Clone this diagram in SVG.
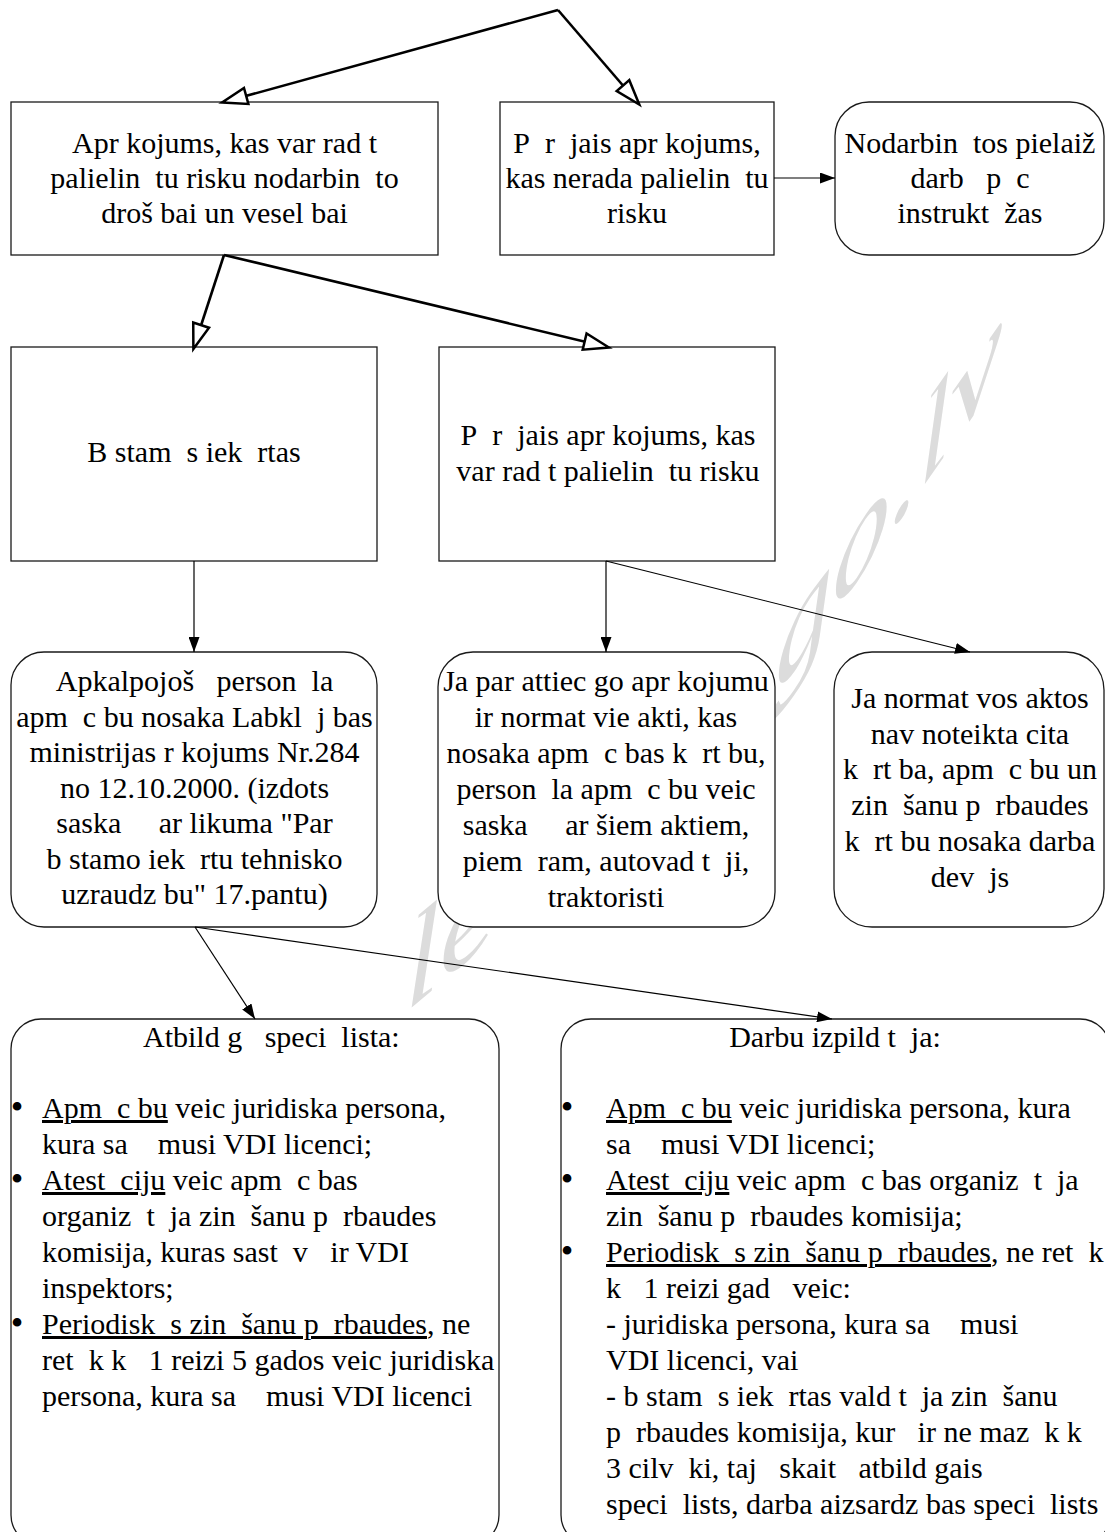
<svg xmlns="http://www.w3.org/2000/svg" width="1105" height="1532" viewBox="0 0 1105 1532">
<style>
.box{fill:#fff;stroke:#1a1a1a;stroke-width:1.3}
.t{font-family:"Liberation Serif","Times New Roman",serif;font-size:30px;fill:#000}
.c{text-anchor:middle}
.b{font-family:"Liberation Serif","Times New Roman",serif;font-size:36px;fill:#000;text-anchor:middle}
.thick{stroke:#000;stroke-width:2.6;fill:none;marker-end:url(#open)}
.thin{stroke:#000;stroke-width:1.2;fill:none;marker-end:url(#solid)}
.wm{font-family:"Liberation Serif","Times New Roman",serif;font-style:italic;fill:#dcdcdc}
</style>
<defs>
<marker id="open" markerUnits="userSpaceOnUse" viewBox="0 0 30 22" markerWidth="30" markerHeight="22" refX="23" refY="11" orient="auto" style="overflow:visible">
<path d="M25,11 L0,2.7 L0,19.3 Z" fill="#fff" stroke="#000" stroke-width="2.5"/>
</marker>
<marker id="solid" markerUnits="userSpaceOnUse" viewBox="0 0 15 11" markerWidth="15" markerHeight="11" refX="15" refY="5.5" orient="auto">
<path d="M0,0 L15,5.5 L0,11 Z" fill="#000"/>
</marker>
</defs>
<rect width="1105" height="1532" fill="#fff"/>
<g id="watermark">
<text class="wm" font-size="125" transform="translate(405,1013) skewY(-40)">le</text>
<text class="wm" font-size="115" transform="translate(775,698) skewY(-55)">go.lv</text>
</g>
<g id="nodeA">
<rect class="box" x="11" y="102" width="427" height="153"/>
<text class="t c" x="224.5" y="153">Apr&#160;kojums, kas var rad&#160;t</text>
<text class="t c" x="224.5" y="188">palielin&#8194;tu risku nodarbin&#8194;to</text>
<text class="t c" x="224.5" y="223">droš&#160;bai un vesel&#160;bai</text>
</g>
<g id="nodeB">
<rect class="box" x="500" y="102" width="274" height="153"/>
<text class="t c" x="637" y="153">P&#8194;r&#8194;jais apr&#160;kojums,</text>
<text class="t c" x="637" y="188">kas nerada palielin&#8194;tu</text>
<text class="t c" x="637" y="223">risku</text>
</g>
<g id="nodeC">
<rect class="box" x="835" y="102" width="269" height="153" rx="34" ry="34"/>
<text class="t c" x="970" y="153">Nodarbin&#8194;tos pielaiž</text>
<text class="t c" x="970" y="188">darb&#8194; p&#8194;c</text>
<text class="t c" x="970" y="223">instrukt&#8194;žas</text>
</g>
<g id="nodeD">
<rect class="box" x="11" y="347" width="366" height="214"/>
<text class="t c" x="194" y="462">B&#160;stam&#8194;s iek&#8194;rtas</text>
</g>
<g id="nodeE">
<rect class="box" x="439" y="347" width="336" height="214"/>
<text class="t c" x="608" y="445">P&#8194;r&#8194;jais apr&#160;kojums, kas</text>
<text class="t c" x="608" y="481">var rad&#160;t palielin&#8194;tu risku</text>
</g>
<g id="nodeF">
<rect class="box" x="11" y="652" width="366" height="275" rx="33" ry="33"/>
<text class="t c" x="194.5" y="691">Apkalpojoš&#8194; person&#8194;la</text>
<text class="t c" x="194.5" y="726.5">apm&#8194;c&#160;bu nosaka Labkl&#8194;j&#160;bas</text>
<text class="t c" x="194.5" y="762">ministrijas r&#160;kojums Nr.284</text>
<text class="t c" x="194.5" y="797.5">no 12.10.2000. (izdots</text>
<text class="t c" x="194.5" y="833">saska&#8194;&#8194; ar likuma "Par</text>
<text class="t c" x="194.5" y="868.5">b&#160;stamo iek&#8194;rtu tehnisko</text>
<text class="t c" x="194.5" y="904">uzraudz&#160;bu" 17.pantu)</text>
</g>
<g id="nodeG">
<rect class="box" x="438" y="652" width="337" height="275" rx="35" ry="35"/>
<text class="t c" x="606" y="691">Ja par attiec&#160;go apr&#160;kojumu</text>
<text class="t c" x="606" y="727">ir normat&#160;vie akti, kas</text>
<text class="t c" x="606" y="763">nosaka apm&#8194;c&#160;bas k&#8194;rt&#160;bu,</text>
<text class="t c" x="606" y="799">person&#8194;la apm&#8194;c&#160;bu veic</text>
<text class="t c" x="606" y="835">saska&#8194;&#8194; ar šiem aktiem,</text>
<text class="t c" x="606" y="871">piem&#8194;ram, autovad&#160;t&#8194;ji,</text>
<text class="t c" x="606" y="907">traktoristi</text>
</g>
<g id="nodeH">
<rect class="box" x="834" y="652" width="270" height="275" rx="38" ry="38"/>
<text class="t c" x="970" y="708">Ja normat&#160;vos aktos</text>
<text class="t c" x="970" y="744">nav noteikta cita</text>
<text class="t c" x="970" y="779">k&#8194;rt&#160;ba, apm&#8194;c&#160;bu un</text>
<text class="t c" x="970" y="815">zin&#8194;šanu p&#8194;rbaudes</text>
<text class="t c" x="970" y="851">k&#8194;rt&#160;bu nosaka darba</text>
<text class="t c" x="970" y="887">dev&#8194;js</text>
</g>
<g id="nodeI">
<rect class="box" x="11" y="1019" width="488" height="526" rx="30" ry="30"/>
<text class="t" x="143" y="1047">Atbild&#160;g&#8194; speci&#8194;lista:</text>
<text class="b" x="17" y="1119">•</text>
<text class="t" x="42" y="1118"><tspan text-decoration="underline">Apm&#8194;c&#160;bu</tspan> veic juridiska persona,</text>
<text class="t" x="42" y="1154">kura sa&#8194;&#8194;musi VDI licenci;</text>
<text class="b" x="17" y="1191">•</text>
<text class="t" x="42" y="1190"><tspan text-decoration="underline">Atest&#8194;ciju</tspan> veic apm&#8194;c&#160;bas</text>
<text class="t" x="42" y="1226">organiz&#8194;t&#8194;ja zin&#8194;šanu p&#8194;rbaudes</text>
<text class="t" x="42" y="1262">komisija, kuras sast&#8194;v&#8194; ir VDI</text>
<text class="t" x="42" y="1298">inspektors;</text>
<text class="b" x="17" y="1335">•</text>
<text class="t" x="42" y="1334"><tspan text-decoration="underline">Periodisk&#8194;s zin&#8194;šanu p&#8194;rbaudes</tspan>, ne</text>
<text class="t" x="42" y="1370">ret&#8194;k k&#8194; 1 reizi 5 gados veic juridiska</text>
<text class="t" x="42" y="1406">persona, kura sa&#8194;&#8194;musi VDI licenci</text>
</g>
<g id="nodeJ">
<rect class="box" x="561" y="1019" width="549" height="526" rx="30" ry="30"/>
<text class="t c" x="835" y="1047">Darbu izpild&#160;t&#8194;ja:</text>
<text class="b" x="567" y="1119">•</text>
<text class="t" x="606" y="1118"><tspan text-decoration="underline">Apm&#8194;c&#160;bu</tspan> veic juridiska persona, kura</text>
<text class="t" x="606" y="1154">sa&#8194;&#8194;musi VDI licenci;</text>
<text class="b" x="567" y="1191">•</text>
<text class="t" x="606" y="1190"><tspan text-decoration="underline">Atest&#8194;ciju</tspan> veic apm&#8194;c&#160;bas organiz&#8194;t&#8194;ja</text>
<text class="t" x="606" y="1226">zin&#8194;šanu p&#8194;rbaudes komisija;</text>
<text class="b" x="567" y="1263">•</text>
<text class="t" x="606" y="1262"><tspan text-decoration="underline">Periodisk&#8194;s zin&#8194;šanu p&#8194;rbaudes</tspan>, ne ret&#8194;k</text>
<text class="t" x="606" y="1298">k&#8194; 1 reizi gad&#8194; veic:</text>
<text class="t" x="606" y="1334">- juridiska persona, kura sa&#8194;&#8194;musi</text>
<text class="t" x="606" y="1370">VDI licenci, vai</text>
<text class="t" x="606" y="1406">- b&#160;stam&#8194;s iek&#8194;rtas vald&#160;t&#8194;ja zin&#8194;šanu</text>
<text class="t" x="606" y="1442">p&#8194;rbaudes komisija, kur&#8194; ir ne maz&#8194;k k&#8194;</text>
<text class="t" x="606" y="1478">3 cilv&#8194;ki, taj&#8194; skait&#8194; atbild&#160;gais</text>
<text class="t" x="606" y="1514">speci&#8194;lists, darba aizsardz&#160;bas speci&#8194;lists</text>
</g>
<g id="connectors">
<line class="thick" x1="558" y1="10" x2="224" y2="102"/>
<line class="thick" x1="558" y1="10" x2="638" y2="103"/>
<line class="thick" x1="224" y1="255" x2="194" y2="347"/>
<line class="thick" x1="224" y1="255" x2="607" y2="347"/>
<line class="thin" x1="774" y1="178" x2="835" y2="178"/>
<line class="thin" x1="194" y1="561" x2="194" y2="652"/>
<line class="thin" x1="606" y1="561" x2="606" y2="652"/>
<line class="thin" x1="606" y1="561" x2="970" y2="652"/>
<line class="thin" x1="195" y1="927" x2="255" y2="1019"/>
<line class="thin" x1="195" y1="927" x2="832" y2="1019"/>
</g>
</svg>
